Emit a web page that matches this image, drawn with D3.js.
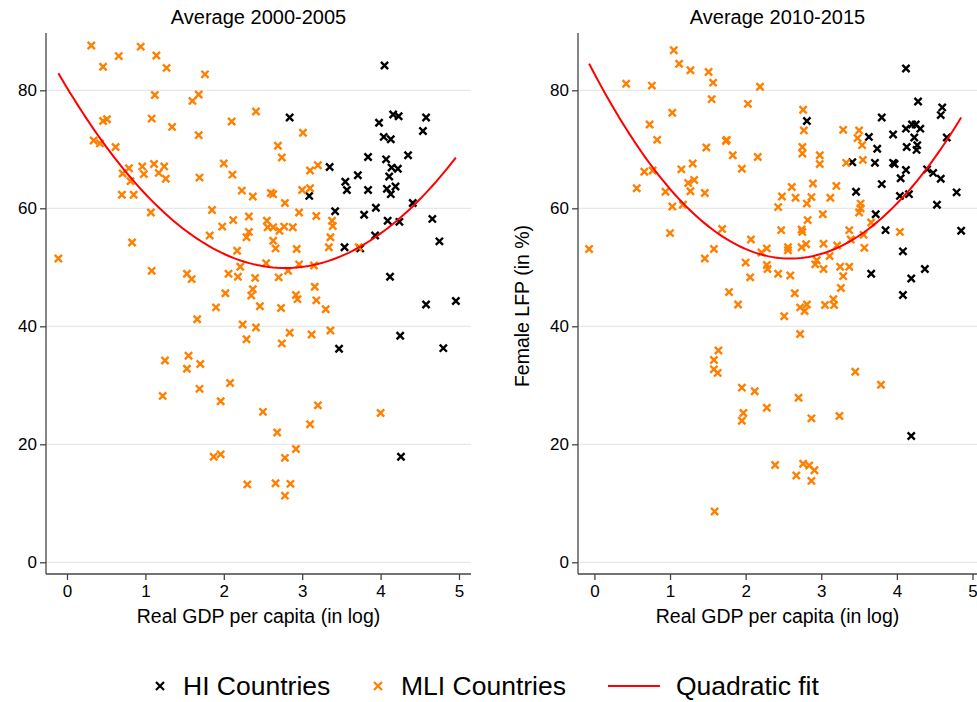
<!DOCTYPE html>
<html>
<head>
<meta charset="utf-8">
<script src="https://cdn.jsdelivr.net/npm/d3@7"></script>
<style>
html,body{margin:0;padding:0;background:#fff;}
svg{display:block;font-family:"Liberation Sans",Arial,sans-serif;}
</style>
</head>
<body>
<svg id="chart" width="977" height="702"></svg>
<script>
// ---------- data ----------
const panelTitles = ["Average 2000-2005", "Average 2010-2015"];
const xTicks = [0, 1, 2, 3, 4, 5];
const yTicks = [0, 20, 40, 60, 80];
const xLabel = "Real GDP per capita (in log)";
const yLabel = "Female LFP (in %)";
const legendLabels = ["HI Countries", "MLI Countries", "Quadratic fit"];

const hi2000 = [[4.05,84.2],[2.84,75.4],[3.98,74.5],[4.16,75.9],[4.23,75.6],[4.58,75.4],[4.54,73.1],[4.04,72.1],[4.13,71.7],[3.84,68.7],[4.07,68.3],[4.35,69.0],[3.35,67.0],[4.14,66.9],[4.22,66.7],[3.71,65.6],[4.11,65.4],[3.55,64.5],[3.57,63.1],[3.84,63.1],[4.08,63.3],[4.19,63.7],[4.13,62.4],[3.09,62.1],[4.41,60.9],[3.42,59.5],[3.94,60.1],[3.79,58.9],[4.09,57.9],[4.24,57.7],[4.66,58.2],[3.93,55.4],[4.75,54.4],[3.54,53.4],[3.74,53.2],[4.12,48.4],[4.58,43.7],[4.96,44.3],[4.25,38.4],[3.47,36.2],[4.80,36.3],[4.26,17.9]];

const mli2000 = [[0.31,87.6],[0.94,87.4],[0.66,85.8],[1.14,85.9],[0.46,84.0],[1.27,83.8],[1.76,82.7],[1.12,79.2],[1.68,79.3],[1.60,78.2],[2.41,76.4],[0.46,74.8],[0.51,75.1],[1.08,75.2],[2.10,74.7],[1.34,73.8],[1.68,72.4],[0.34,71.5],[0.42,71.0],[0.62,70.4],[2.00,67.6],[2.11,65.7],[0.71,65.9],[0.79,66.8],[0.96,67.1],[0.98,65.8],[1.11,67.5],[1.17,66.0],[1.24,67.1],[1.26,65.0],[0.81,64.6],[1.69,65.2],[2.23,63.0],[2.37,62.0],[0.70,62.3],[0.85,62.3],[1.07,59.3],[1.85,59.7],[2.12,58.0],[2.32,58.6],[1.98,56.9],[2.32,56.0],[2.29,55.1],[1.82,55.4],[2.17,52.8],[0.83,54.2],[-0.11,51.5],[2.21,50.1],[1.08,49.4],[1.53,48.9],[1.59,48.0],[2.06,48.9],[2.18,48.4],[2.40,48.2],[2.02,45.6],[2.37,46.3],[2.35,45.2],[1.90,43.2],[2.46,43.4],
[3.01,72.8],[2.69,70.6],[2.74,68.6],[3.10,66.4],[3.20,67.3],[2.60,62.6],[2.63,62.4],[2.78,60.9],[3.00,63.1],[3.10,63.4],[2.96,59.3],[3.18,58.7],[2.55,57.9],[3.38,57.9],[3.39,57.0],[2.56,56.8],[2.63,56.8],[2.71,56.2],[2.77,56.9],[2.88,56.8],[3.36,55.1],[2.63,54.5],[2.66,53.2],[2.93,53.1],[3.34,53.4],[3.72,53.4],[2.54,50.7],[2.96,50.5],[3.15,50.3],[2.82,49.4],[2.70,48.3],[3.16,46.7],[2.92,45.3],[2.94,44.6],[3.18,44.4],[2.73,43.1],[3.30,42.9],
[1.66,41.2],[2.24,40.3],[2.41,39.8],[2.29,37.8],[1.25,34.2],[1.55,35.0],[1.70,33.6],[1.53,32.8],[2.08,30.4],[1.69,29.4],[1.22,28.2],[1.96,27.3],[1.87,17.9],[1.96,18.3],[2.30,13.2],
[2.84,38.9],[3.12,38.6],[3.36,39.3],[2.74,37.1],[3.20,26.6],[2.50,25.5],[4.00,25.3],[3.10,23.4],[2.68,22.0],[2.92,19.2],[2.78,17.7],[2.66,13.4],[2.85,13.3],[2.78,11.3]];

const hi2010 = [[4.12,83.7],[4.28,78.1],[4.60,77.1],[4.58,75.8],[2.81,74.8],[3.80,75.4],[4.12,73.5],[4.20,74.2],[4.25,74.2],[4.31,73.5],[4.23,72.0],[3.63,72.1],[3.95,72.5],[4.66,72.0],[3.74,70.1],[4.13,70.4],[4.27,70.7],[4.26,69.9],[3.41,67.8],[3.71,67.7],[3.95,67.7],[3.97,67.5],[4.12,66.5],[4.40,66.6],[4.48,66.0],[4.58,65.0],[4.05,65.1],[3.80,64.1],[3.46,62.8],[4.04,62.1],[4.16,62.4],[4.79,62.7],[4.53,60.6],[3.72,59.0],[3.85,56.3],[4.85,56.2],[4.08,52.7],[4.37,49.7],[3.66,48.9],[4.19,48.1],[4.08,45.3],[4.19,21.4]];

const mli2010 = [[1.05,86.8],[1.12,84.5],[1.27,83.4],[1.51,83.1],[1.57,81.3],[1.55,78.5],[0.42,81.1],[0.76,80.8],[2.19,80.6],[2.03,77.7],[1.03,76.2],[0.73,74.2],[0.83,71.6],[1.75,71.6],[1.74,71.4],[1.48,70.3],[1.83,69.0],[2.16,68.7],[1.30,67.6],[0.66,66.2],[0.77,66.4],[1.15,66.6],[1.95,66.7],[1.24,64.3],[1.32,64.8],[1.27,62.9],[0.56,63.4],[0.94,62.8],[1.46,62.6],[1.03,60.3],[1.17,60.6],[1.69,56.5],[1.00,55.8],[2.07,54.7],[-0.07,53.1],[1.58,53.1],[1.46,51.5],[2.21,52.5],[2.28,53.2],[2.00,50.8],[2.28,50.4],[2.29,49.7],[2.06,48.3],[1.78,45.8],[1.90,43.7],
[2.76,76.7],[2.77,73.2],[2.75,70.4],[2.75,69.3],[2.98,69.0],[2.98,67.5],[3.29,73.3],[3.50,73.2],[3.48,71.9],[3.54,70.7],[3.33,67.7],[3.55,68.2],[2.61,63.6],[2.48,62.0],[2.66,61.8],[2.87,61.9],[2.81,60.8],[2.89,64.2],[3.20,63.8],[3.12,61.8],[2.43,60.2],[3.52,60.8],[3.50,59.3],[3.52,60.0],[3.02,59.0],[2.82,58.0],[3.66,57.6],[2.47,56.3],[2.74,56.4],[2.75,56.0],[3.37,56.3],[4.04,56.0],[3.39,54.7],[3.56,55.5],[2.56,53.4],[2.56,52.9],[2.74,53.4],[2.80,53.9],[3.03,54.0],[3.21,53.7],[3.57,53.3],[3.11,51.9],[2.94,51.2],[2.92,50.5],[3.03,49.7],[3.25,50.1],[3.37,50.1],[2.43,48.9],[2.59,48.6],[3.29,48.5],[3.26,46.5],[2.65,45.6],[3.16,44.6],[3.17,43.6],[2.81,43.7],[2.72,43.2],[3.05,43.6],[2.78,42.6],[2.51,41.7],
[1.64,35.9],[1.58,34.3],[1.58,32.7],[1.63,32.1],[1.95,29.6],[2.12,29.0],[2.28,26.2],[1.97,25.3],[1.95,24.0],[1.59,8.6],
[2.72,38.7],[3.45,32.3],[3.79,30.1],[2.70,27.9],[2.87,24.4],[3.24,24.8],[2.39,16.5],[2.76,16.7],[2.84,16.4],[2.91,15.6],[2.67,14.7],[2.87,13.8]];

// ---------- styles ----------
const COL_HI = "#000000", COL_MLI = "#ff8000", COL_FIT = "#ff0000";
const FONT = "'Liberation Sans',Arial,sans-serif";
const svg = d3.select("#chart");
const yTop = 33, yBottom = 574;

function quadFit(pts) {
  // least squares y = b0 + b1 x + b2 x^2
  let S = [[0,0,0],[0,0,0],[0,0,0]], T = [0,0,0];
  pts.forEach(([x,y]) => {
    const v = [1, x, x*x];
    for (let i=0;i<3;i++){ T[i]+=v[i]*y; for(let j=0;j<3;j++) S[i][j]+=v[i]*v[j]; }
  });
  const A = S.map((r,i)=>r.concat([T[i]]));
  for (let i=0;i<3;i++){
    let p=i; for(let k=i+1;k<3;k++) if(Math.abs(A[k][i])>Math.abs(A[p][i])) p=k;
    [A[i],A[p]]=[A[p],A[i]];
    for(let k=i+1;k<3;k++){ const f=A[k][i]/A[i][i]; for(let j=i;j<4;j++) A[k][j]-=f*A[i][j]; }
  }
  const b=[0,0,0];
  for(let i=2;i>=0;i--){ let s=A[i][3]; for(let j=i+1;j<3;j++) s-=A[i][j]*b[j]; b[i]=s/A[i][i]; }
  return b;
}

function xMarker(g, cx, cy, color, r, w) {
  g.append("path")
    .attr("d", `M${cx-r},${cy-r}L${cx+r},${cy+r}M${cx-r},${cy+r}L${cx+r},${cy-r}`)
    .attr("stroke", color).attr("stroke-width", w).attr("fill","none");
}

function panel(opts) {
  const {axisX, plotRight, x0, x5, hi, mli, title, showYLabel} = opts;
  const x = d3.scaleLinear().domain([0,5]).range([x0, x5]);
  const y = d3.scaleLinear().domain([0,80]).range([562.3, 90.3]);
  const g = svg.append("g");

  // gridlines
  g.selectAll("line.grid").data(yTicks).join("line")
    .attr("x1", axisX).attr("x2", plotRight)
    .attr("y1", d=>y(d)).attr("y2", d=>y(d))
    .attr("stroke", "#e8e8e8").attr("stroke-width", 1.3);

  // y axis
  const yAxis = d3.axisLeft(y).tickValues(yTicks).tickSize(6).tickPadding(3).tickFormat(d3.format("d"));
  const ya = g.append("g").attr("transform", `translate(${axisX},0)`).call(yAxis);
  ya.select(".domain").remove();
  ya.append("line").attr("x1",0).attr("x2",0).attr("y1",yTop).attr("y2",yBottom).attr("stroke","#444").attr("stroke-width",1.3);
  ya.selectAll(".tick line").attr("stroke","#444").attr("stroke-width",1.3);
  ya.selectAll(".tick text").attr("fill","#000").style("font-size","17px").style("font-family",FONT);

  // x axis
  const xAxis = d3.axisBottom(x).tickValues(xTicks).tickSize(6).tickPadding(5).tickFormat(d3.format("d"));
  const xa = g.append("g").attr("transform", `translate(0,${yBottom})`).call(xAxis);
  xa.select(".domain").remove();
  xa.append("line").attr("x1",axisX).attr("x2",plotRight).attr("y1",0).attr("y2",0).attr("stroke","#444").attr("stroke-width",1.3);
  xa.selectAll(".tick line").attr("stroke","#444").attr("stroke-width",1.3);
  xa.selectAll(".tick text").attr("fill","#000").style("font-size","17px").style("font-family",FONT);

  const cx = (axisX + plotRight) / 2;
  g.append("text").attr("x", cx).attr("y", 24).attr("text-anchor","middle")
    .style("font-size","20px").text(title);
  g.append("text").attr("x", cx).attr("y", 623).attr("text-anchor","middle")
    .style("font-size","19.5px").text(xLabel);
  if (showYLabel) {
    g.append("text").attr("transform", `translate(529,306) rotate(-90)`)
      .attr("text-anchor","middle").style("font-size","19.5px").text(yLabel);
  }

  // points
  const pg = g.append("g");
  hi.forEach(d => xMarker(pg, x(d[0]), y(d[1]), COL_HI, 3.6, 2.4));
  mli.forEach(d => xMarker(pg, x(d[0]), y(d[1]), COL_MLI, 3.6, 2.4));

  // quadratic fit (least squares over all countries in the panel)
  const all = hi.concat(mli);
  const b = quadFit(all);
  const ext = d3.extent(all, d=>d[0]);
  const xs = d3.range(0, 101).map(i => ext[0] + (ext[1]-ext[0])*i/100);
  const line = d3.line().x(d=>x(d)).y(d=>y(b[0]+b[1]*d+b[2]*d*d));
  g.append("path").datum(xs).attr("d", line)
    .attr("fill","none").attr("stroke", COL_FIT).attr("stroke-width", 2);
}

panel({axisX:46, plotRight:471, x0:67, x5:459, hi:hi2000, mli:mli2000, title:panelTitles[0], showYLabel:false});
panel({axisX:578, plotRight:977, x0:594.4, x5:972.5, hi:hi2010, mli:mli2010, title:panelTitles[1], showYLabel:true});

// legend
const lg = svg.append("g").style("font-size","26.5px");
const ly = 686;
xMarker(lg, 160, ly, COL_HI, 4, 2.2);
lg.append("text").attr("x",183).attr("y",ly).attr("dy","0.35em").text(legendLabels[0]);
xMarker(lg, 378, ly, COL_MLI, 4, 2.2);
lg.append("text").attr("x",401).attr("y",ly).attr("dy","0.35em").text(legendLabels[1]);
lg.append("line").attr("x1",608).attr("x2",660).attr("y1",ly).attr("y2",ly).attr("stroke",COL_FIT).attr("stroke-width",2);
lg.append("text").attr("x",676).attr("y",ly).attr("dy","0.35em").text(legendLabels[2]);
</script>
</body>
</html>
